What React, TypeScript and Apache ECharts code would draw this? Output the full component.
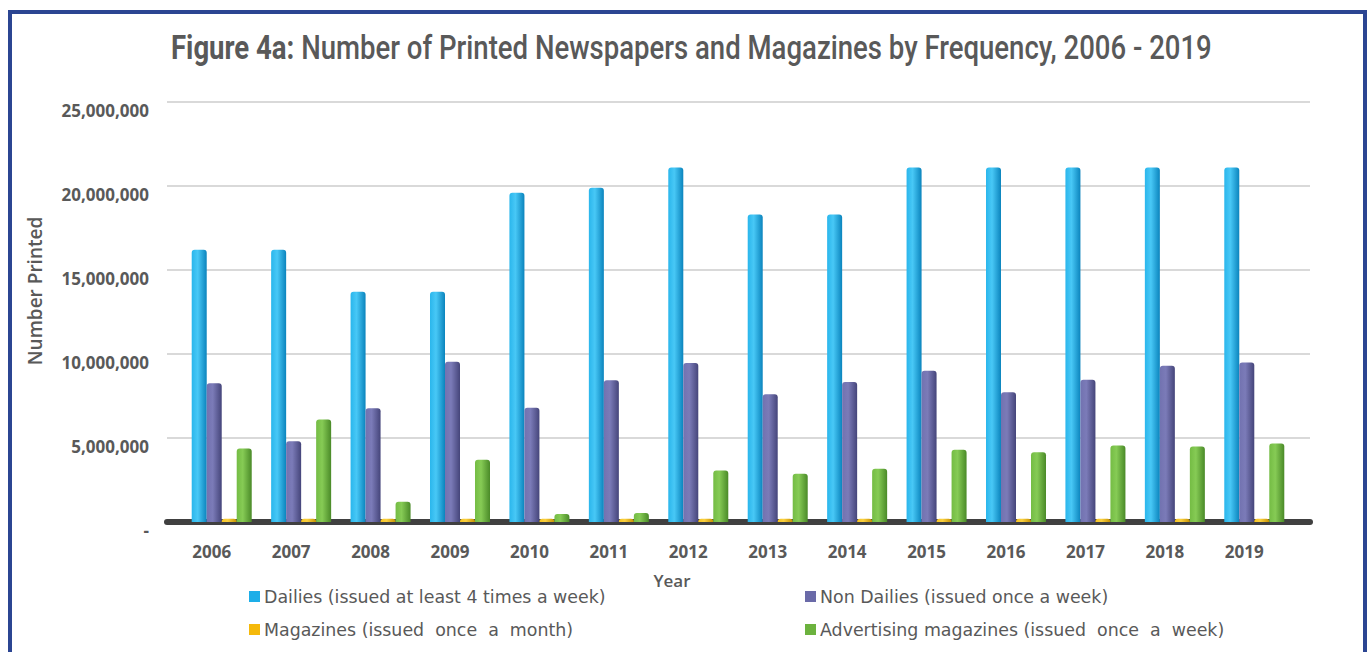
import React, { useEffect, useRef } from "react";
import * as echarts from "echarts";

const years = ["2006", "2007", "2008", "2009", "2010", "2011", "2012", "2013", "2014", "2015", "2016", "2017", "2018", "2019"];
const dailies = [16200000, 16200000, 13700000, 13700000, 19600000, 19900000, 21100000, 18300000, 18300000, 21100000, 21100000, 21100000, 21100000, 21100000];
const nonDailies = [8260000, 4800000, 6770000, 9540000, 6800000, 8440000, 9460000, 7600000, 8340000, 9000000, 7720000, 8460000, 9300000, 9500000];
const magazines = [200000, 200000, 200000, 200000, 200000, 200000, 200000, 200000, 200000, 200000, 200000, 200000, 200000, 200000];
const advertising = [4370000, 6100000, 1200000, 3700000, 480000, 540000, 3070000, 2870000, 3170000, 4300000, 4150000, 4550000, 4500000, 4670000];

const seriesNames = [
  "Dailies (issued at least 4 times a week)",
  "Non Dailies (issued once a week)",
  "Magazines (issued  once  a  month)",
  "Advertising magazines (issued  once  a  week)",
];
const plainColors = ["#1DAEE8", "#6A6AA8", "#F5B90B", "#6CB23E"];
const gradStops = [
  ["#2AB6EC", "#48C8F6", "#0B84BD"],
  ["#7272B0", "#7B7BB8", "#45457A"],
  ["#F7C420", "#FAD040", "#C79200"],
  ["#74BC44", "#86CB55", "#4A8A28"],
];

const FONT = "'Open Sans', 'DejaVu Sans', sans-serif";
const LEGEND_FONT = "'DejaVu Sans', 'Open Sans', sans-serif";
const GRAY = "#595959";

export default function App() {
  const ref = useRef<HTMLDivElement>(null);
  useEffect(() => {
    if (!ref.current) return;
    const chart = echarts.init(ref.current, null, { renderer: "svg" });
    const values = [dailies, nonDailies, magazines, advertising];
    const grad = (i: number) =>
      new echarts.graphic.LinearGradient(0, 0, 1, 0, [
        { offset: 0, color: gradStops[i][0] },
        { offset: 0.4, color: gradStops[i][1] },
        { offset: 1, color: gradStops[i][2] },
      ]);
    const legendPos = [
      [249, 597],
      [805, 597],
      [249, 630],
      [805, 630],
    ];
    chart.setOption({
      animation: false,
      backgroundColor: "#ffffff",
      graphic: [
        {
          type: "rect",
          shape: { x: 10, y: 12, width: 1355, height: 700 },
          style: { fill: "none", stroke: "#2B4592", lineWidth: 4 },
          silent: true,
        },
        {
          type: "text",
          x: 171,
          y: 47,
          scaleX: 0.81,
          style: {
            text: "{b|Figure 4a:} Number of Printed Newspapers and Magazines by Frequency, 2006 - 2019",
            fontSize: 34,
            fontFamily: "Roboto, sans-serif",
            fontWeight: 500,
            fill: GRAY,
            textAlign: "left",
            textVerticalAlign: "middle",
            rich: {
              b: { fontSize: 34, fontFamily: "Roboto, sans-serif", fontWeight: "bold", fill: GRAY },
            },
          },
        },
        {
          type: "text",
          x: 35,
          y: 291,
          rotation: Math.PI / 2,
          style: {
            text: "Number Printed",
            fontSize: 19,
            fontFamily: FONT,
            fontWeight: 600,
            fill: GRAY,
            textAlign: "center",
            textVerticalAlign: "middle",
          },
        },
        {
          type: "text",
          x: 672,
          y: 580,
          style: {
            text: "Year",
            fontSize: 17,
            fontFamily: FONT,
            fontWeight: 600,
            fill: GRAY,
            textAlign: "center",
            textVerticalAlign: "middle",
          },
        },
      ],
      legend: seriesNames.map((name, i) => ({
        data: [{ name, itemStyle: { color: plainColors[i] } }],
        left: legendPos[i][0],
        top: legendPos[i][1] - 9,
        padding: 0,
        itemWidth: 11,
        itemHeight: 11,
        itemGap: 5,
        icon: "rect",
        textStyle: { fontSize: 17.4, fontFamily: LEGEND_FONT, color: GRAY, padding: [0, 0, 0, -1] },
      })),
      grid: [
        { left: 167, right: 58, top: 102, bottom: 130 },
        { left: 182, right: 74, top: 102, bottom: 130 },
      ],
      xAxis: [
        {
          gridIndex: 0,
          type: "value",
          min: 0,
          max: 1,
          axisLine: { show: true, lineStyle: { color: "#404040", width: 6 } },
          axisTick: { show: false },
          axisLabel: { show: false },
          splitLine: { show: false },
        },
        {
          gridIndex: 1,
          type: "category",
          data: years,
          axisLine: { show: false },
          axisTick: { show: false },
          axisLabel: {
            margin: 21,
            fontSize: 17,
            fontWeight: "bold",
            fontFamily: FONT,
            color: GRAY,
            padding: [0, 20, 0, 0],
          },
        },
      ],
      yAxis: [
        {
          gridIndex: 0,
          type: "value",
          min: 0,
          max: 25000000,
          interval: 5000000,
          axisLine: { show: false },
          axisTick: { show: false },
          axisLabel: {
            margin: 18,
            fontSize: 17,
            fontWeight: "bold",
            fontFamily: FONT,
            color: GRAY,
            verticalAlign: "top",
            formatter: (v: number) => (v === 0 ? "-" : v.toLocaleString("en-US")),
          },
          splitLine: { lineStyle: { color: "#D9D9D9", width: 2 } },
        },
        { gridIndex: 1, type: "value", min: 0, max: 25000000, interval: 5000000, show: false },
      ],
      series: seriesNames.map((name, i) => ({
        name,
        type: "bar",
        xAxisIndex: 1,
        yAxisIndex: 1,
        data: values[i],
        barWidth: 15,
        barGap: "0%",
        itemStyle: { color: grad(i), borderRadius: [3, 3, 0, 0] },
      })),
    });
    return () => chart.dispose();
  }, []);
  return (
    <div
      ref={ref}
      style={{ position: "fixed", left: 0, top: 0, width: 1368, height: 652, background: "#fff" }}
    />
  );
}
